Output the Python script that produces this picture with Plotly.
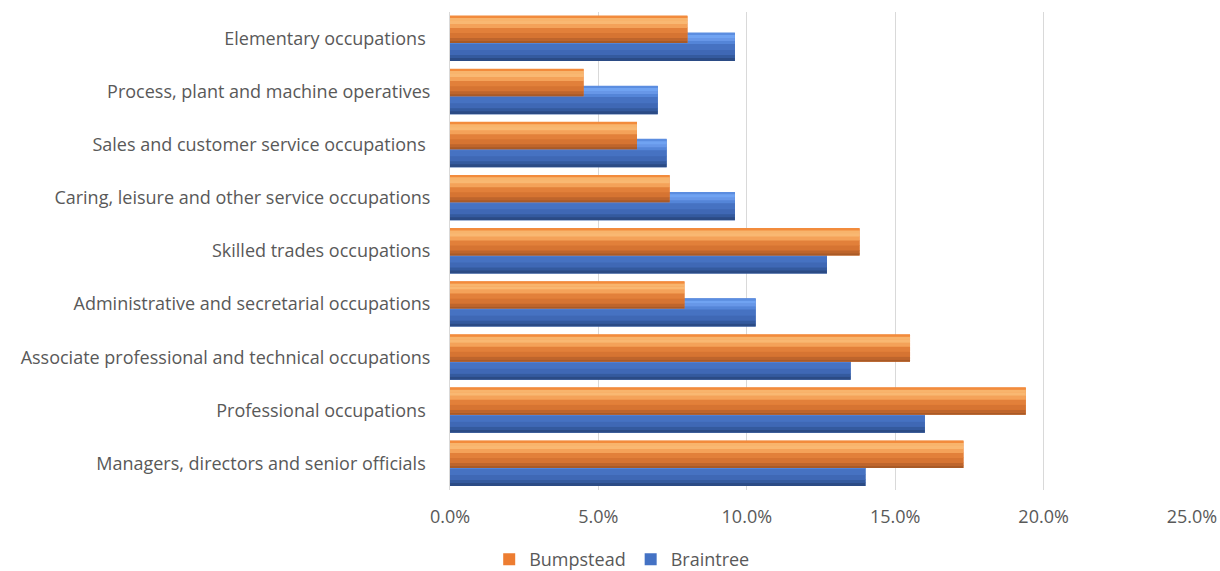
import plotly.graph_objects as go

categories = [
    "Managers, directors and senior officials\u00a0",
    "Professional occupations\u00a0",
    "Associate professional and technical occupations",
    "Administrative and secretarial occupations",
    "Skilled trades occupations",
    "Caring, leisure and other service occupations",
    "Sales and customer service occupations\u00a0",
    "Process, plant and machine operatives",
    "Elementary occupations\u00a0",
]
bumpstead = [17.3, 19.4, 15.5, 7.9, 13.8, 7.4, 6.3, 4.5, 8.0]
braintree = [14.0, 16.0, 13.5, 10.3, 12.7, 9.6, 7.3, 7.0, 9.6]
x_ticks = [0, 5, 10, 15, 20, 25]

FONT = "Open Sans, sans-serif"
PX = 1 / 53.0  # one pixel in category units (approx)
fig = go.Figure()


def add_series(name, values, top, stripes, legend_color, rank):
    total = stripes[-1][1]
    fig.add_trace(go.Bar(
        y=categories, x=values, orientation="h", name=name,
        offset=top - total * PX, width=total * PX,
        marker=dict(color=legend_color, line=dict(width=0)),
        showlegend=True, legendrank=rank, legendgroup=name,
        hovertemplate="%{y}: %{x:.1f}%<extra>" + name + "</extra>",
    ))
    # each stripe reaches down to the bar bottom; later ones paint over,
    # which avoids hairline gaps between stripes
    for a, b, col in reversed(stripes):
        fig.add_trace(go.Bar(
            y=categories, x=values, orientation="h", name=name,
            offset=top - b * PX, width=(b - a) * PX + 0.4 * PX,
            marker=dict(color=col, line=dict(width=0)),
            showlegend=False, legendgroup=name, hoverinfo="skip",
        ))


blue_stripes = [(0, 2, "#5B8DE0"), (2, 5, "#70A3F2"), (5, 8, "#6797E8"),
                (8, 11, "#5485D8"), (11, 17, "#4672C2"), (17, 22, "#3F68B5"),
                (22, 25, "#345A9E"), (25, 28, "#2B4B85")]
orange_stripes = [(0, 2, "#F28B3C"), (2, 5, "#F8B46C"), (5, 8, "#F9B872"),
                  (8, 12, "#F4A259"), (12, 17, "#E2803A"), (17, 22, "#D67432"),
                  (22, 25, "#BE652C"), (25, 27, "#A85A27")]

add_series("Braintree", braintree, 0.105, blue_stripes, "#4472C4", 2)
add_series("Bumpstead", bumpstead, 0.425, orange_stripes, "#ED7D31", 1)

fig.update_layout(
    width=1220, height=571,
    barmode="overlay",
    plot_bgcolor="white", paper_bgcolor="white",
    margin=dict(l=450, r=28, t=12, b=81),
    font=dict(family=FONT, size=18, color="#595959"),
    legend=dict(orientation="h", xref="container", yref="container",
                x=0.51, xanchor="center", y=0.02, yanchor="middle",
                font=dict(size=18, color="#595959"),
                tracegroupgap=0, itemwidth=30),
    xaxis=dict(range=[0, 25], tickvals=x_ticks,
               ticktext=[f"{v:.1f}%" for v in x_ticks],
               showgrid=True, gridcolor="#D9D9D9", gridwidth=1,
               zeroline=False, showline=False, ticks="",
               ticklabelstandoff=14, automargin=False),
    yaxis=dict(type="category", categoryorder="array", categoryarray=categories,
               showgrid=False, showline=True, linecolor="#D9D9D9", linewidth=1,
               ticks="", ticklabelstandoff=15, automargin=False),
)

fig.write_html("out.html", config={"displayModeBar": False},
               post_script="document.body.style.margin='0';document.body.style.overflow='hidden';")
